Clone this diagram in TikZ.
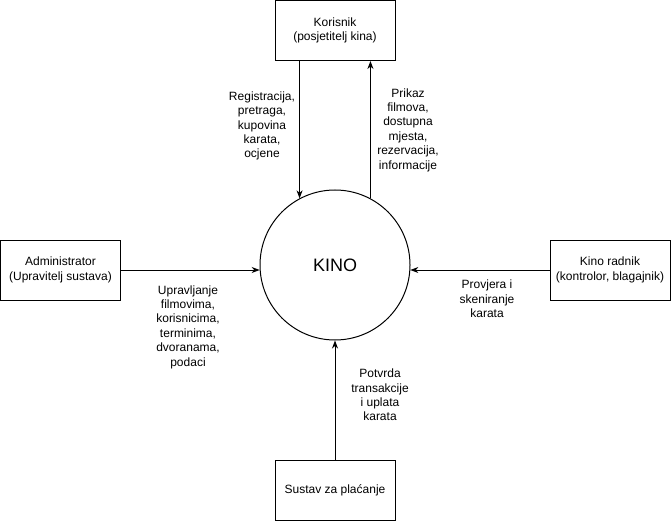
\documentclass[tikz,border=0pt]{standalone}
\usepackage{fontspec}
\setmainfont{Liberation Sans}
\usepackage{tikz}
\usetikzlibrary{arrows.meta}
\tikzset{
	entity/.style={draw, line width=1pt, minimum width=120pt, minimum height=60pt, inner sep=0pt, align=center, font=\fontsize{12}{14.4}\selectfont},
	process/.style={draw, circle, line width=1pt, minimum size=150pt, inner sep=0pt, font=\fontsize{18}{21.6}\selectfont},
	flow/.style={align=center, inner sep=0pt, font=\fontsize{12}{14.4}\selectfont},
	>={Stealth[length=8pt, width=6pt, inset=2.5pt]}
}

\begin{document}
\begin{tikzpicture}[x=1pt, y=-1pt, line width=1pt]
		\useasboundingbox (0,0) rectangle (671,521);
		\node[process] (kino) at (335,265) {KINO};
		\node[entity] (korisnik) at (335,30.5) {Korisnik\\(posjetitelj kina)};
		\node[entity] (admin) at (60.5,270) {Administrator\\(Upravitelj sustava)};
		\node[entity] (radnik) at (610,270) {Kino radnik\\(kontrolor, blagajnik)};
		\node[entity] (placanje) at (335,490) {Sustav za plaćanje};
		\draw[->]  (kino.118 |- korisnik.south) to (kino.118);
		\draw[->]  (kino.62) to (kino.62 |- korisnik.south);
		\draw[->]  (admin.east) to (kino.184 |- admin.east);
		\draw[->]  (radnik.west) to (kino.-4 |- radnik.west);
		\draw[->]  (placanje.north) to (kino.south);
		\node[flow] (zahtjevi) at (262,126) {Registracija,\\pretraga,\\kupovina\\karata,\\ocjene};
		\node[flow] (prikaz) at (408,130) {Prikaz\\filmova,\\dostupna\\mjesta,\\rezervacija,\\informacije};
		\node[flow] (upravljanje) at (188,327) {Upravljanje\\filmovima,\\korisnicima,\\terminima,\\dvoranama,\\podaci};
		\node[flow] (provjera) at (487,299) {Provjera i\\skeniranje\\karata};
		\node[flow] (potvrda) at (380,395) {Potvrda\\transakcije\\i uplata\\karata};
	\end{tikzpicture}
\end{document}
